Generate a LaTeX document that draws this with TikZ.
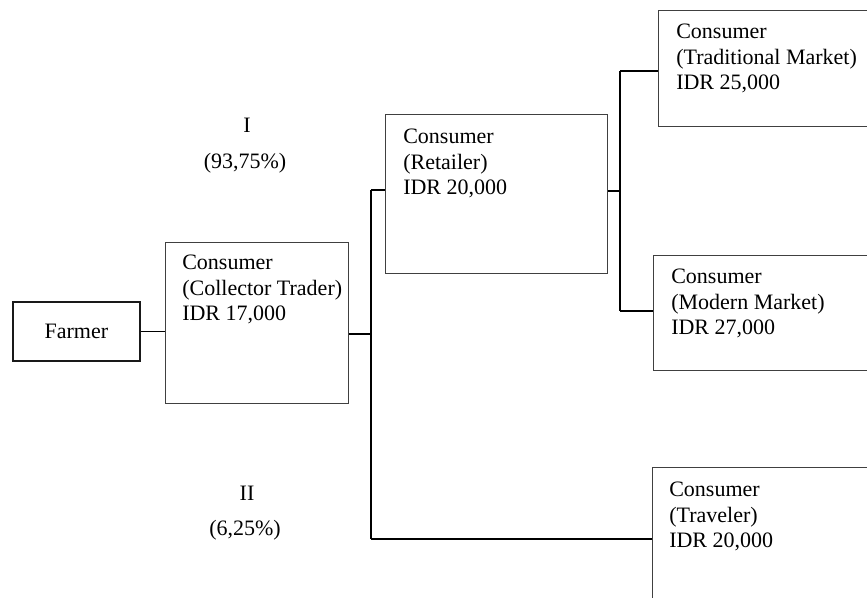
\documentclass[tikz,border=0pt]{standalone}
\usepackage{fontspec}
\setmainfont{Liberation Serif}
\usepackage{tikz}
\usetikzlibrary{positioning,calc}

\tikzset{
  box/.style={draw=black!75, line width=0.8pt, inner sep=0pt, anchor=north west},
  boxtext/.style={anchor=north west, inner sep=0pt, align=left},
  link/.style={line width=1.3pt, black},
}

\begin{document}
\begin{tikzpicture}[x=0.75pt,y=-0.75pt,font=\fontsize{16.5}{19.1}\selectfont]
  \clip (0,0) rectangle (867,597); % 図の範囲
  \fill[white] (0,0) rectangle (867,597); % 背景
  \node[box, line width=1.4pt, draw=black!90, minimum width=127*0.75pt, minimum height=59*0.75pt] (farmer) at (12,301) {}; % 農家の枠
  \node (farmerT) at (farmer.center) {Farmer}; % 農家の文字
  \node[box, minimum width=183*0.75pt, minimum height=161*0.75pt] (collector) at (165,242) {}; % 集荷業者の枠
  \node[boxtext] (collectorT) at ([shift={(17,13)}]collector.north west) {Consumer\\(Collector Trader)\\IDR 17,000}; % 集荷業者の文字
  \node[box, minimum width=222*0.75pt, minimum height=159*0.75pt] (retailer) at (385,114) {}; % 小売業者の枠
  \node[boxtext] (retailerT) at ([shift={(18,15)}]retailer.north west) {Consumer\\(Retailer)\\IDR 20,000}; % 小売業者の文字
  \node[box, minimum width=260*0.75pt, minimum height=116*0.75pt] (tradmkt) at (658,10) {}; % 伝統市場の枠
  \node[boxtext] (tradmktT) at ([shift={(18,14)}]tradmkt.north west) {Consumer\\(Traditional Market)\\IDR 25,000}; % 伝統市場の文字
  \node[box, minimum width=260*0.75pt, minimum height=115*0.75pt] (modmkt) at (653,255) {}; % 近代市場の枠
  \node[boxtext] (modmktT) at ([shift={(18,14)}]modmkt.north west) {Consumer\\(Modern Market)\\IDR 27,000}; % 近代市場の文字
  \node[box, minimum width=260*0.75pt, minimum height=160*0.75pt] (traveler) at (652,467) {}; % 旅行者の枠
  \node[boxtext] (travelerT) at ([shift={(17,15)}]traveler.north west) {Consumer\\(Traveler)\\IDR 20,000}; % 旅行者の文字
  \coordinate (splitA) at (371,334); % 1つ目の分岐点
  \coordinate (upA) at (371,190); % 1つ目の分岐の上端
  \coordinate (dnA) at (371,539); % 1つ目の分岐の下端
  \coordinate (splitB) at (620,191); % 2つ目の分岐点
  \coordinate (upB) at (620,71); % 2つ目の分岐の上端
  \coordinate (dnB) at (620,311); % 2つ目の分岐の下端
  \draw[link] (farmer.east) -- (farmer.east -| collector.west); % 農家から集荷業者へ
  \draw[link] (splitA -| collector.east) -- (splitA); % 集荷業者から分岐へ
  \draw[link] (upA) -- (dnA); % 1つ目の分岐の縦線
  \draw[link] (upA) -- (upA -| retailer.west); % 小売業者へ
  \draw[link] (dnA) -- (dnA -| traveler.west); % 旅行者へ
  \draw[link] (splitB -| retailer.east) -- (splitB); % 小売業者から分岐へ
  \draw[link] (upB) -- (dnB); % 2つ目の分岐の縦線
  \draw[link] (upB) -- (upB -| tradmkt.west); % 伝統市場へ
  \draw[link] (dnB) -- (dnB -| modmkt.west); % 近代市場へ
  \node (routeI) at (247,125) {I}; % 経路Iの番号
  \node (shareI) at (245,163) {(93,75\%)}; % 経路Iの割合
  \node (routeII) at (247,493) {II}; % 経路IIの番号
  \node (shareII) at (245,530) {(6,25\%)}; % 経路IIの割合
\end{tikzpicture}
\end{document}
